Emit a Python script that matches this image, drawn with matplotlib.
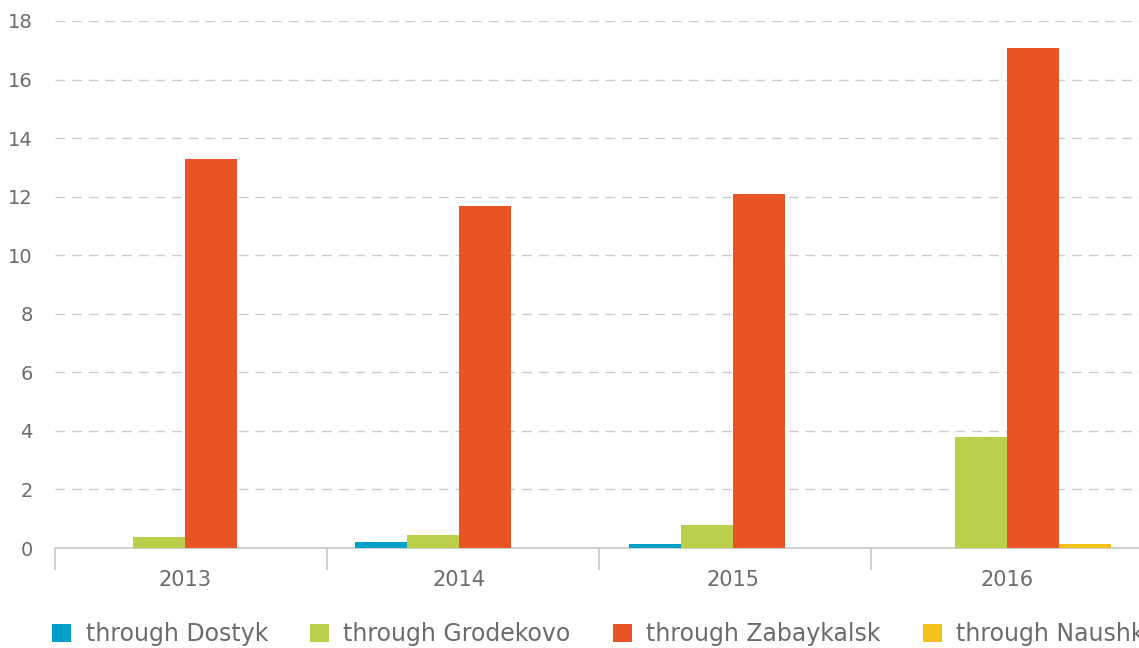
import numpy as np
import matplotlib
matplotlib.use("Agg")
import matplotlib.pyplot as plt

# transit volumes by border crossing
years = ["2013", "2014", "2015", "2016"]
dostyk = [0.0, 0.20, 0.14, 0.0]
grodekovo = [0.37, 0.45, 0.79, 3.80]
zabaykalsk = [13.29, 11.68, 12.09, 17.08]
naushki = [0.0, 0.0, 0.0, 0.14]

series = [("through Dostyk", dostyk, "#009fc7"),
          ("through Grodekovo", grodekovo, "#bbcf4d"),
          ("through Zabaykalsk", zabaykalsk, "#e95426"),
          ("through Naushki", naushki, "#f5c01a")]

plt.rcParams['font.family'] = ['DejaVu Sans']
txt = '#6b6b6b'

fig = plt.figure(figsize=(11.39, 6.48), dpi=100)
ax = fig.add_axes([55/1139, 100/648, 1084/1139, 527/648])

x = np.arange(len(years))
w = 0.19
handles = []
for i, (name, vals, col) in enumerate(series):
    b = ax.bar(x + (i - 1.5)*w, vals, w, color=col, label=name, zorder=3)
    handles.append(b)

ax.set_yticks(range(0, 19, 2))
ax.yaxis.grid(True, color='#cccccc', linestyle=(0, (7, 5)), linewidth=1)
ax.set_axisbelow(True)
for s in ['top', 'right', 'left']:
    ax.spines[s].set_visible(False)
ax.spines['bottom'].set_color('#c8c8c8')
ax.spines['bottom'].set_linewidth(1.2)

# category boundary ticks, labels centred under groups
ax.set_xticks([-0.474 + 0.993*i for i in range(4)])
ax.set_xticklabels([])
ax.set_xticks(x, years, minor=True)
ax.tick_params(axis='x', which='major', length=16, color='#c8c8c8', width=1.2)
ax.tick_params(axis='x', which='minor', length=0, pad=16, labelsize=15, labelcolor=txt)
ax.tick_params(axis='y', length=0, pad=16, labelsize=14, labelcolor=txt)

ax.set_xlim(-0.474, 3.482)
ax.set_ylim(0, 18)

fig.legend(handles=handles, loc='center left', bbox_to_anchor=(43/1139, 14/648),
           ncol=4, frameon=False, fontsize=17, labelcolor=txt,
           handlelength=0.8, handleheight=0.8, handletextpad=0.6,
           columnspacing=1.8, borderaxespad=0)

fig.savefig("out.png", dpi=100)
